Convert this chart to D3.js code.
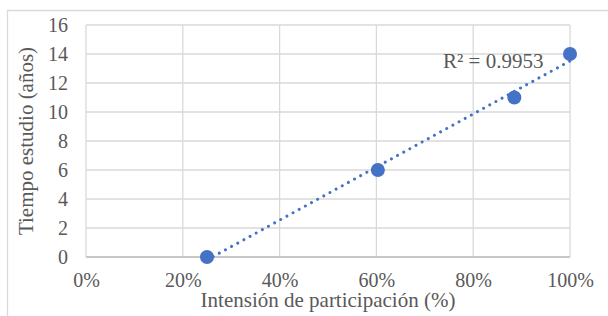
<!DOCTYPE html>
<html><head><meta charset="utf-8">
<script src="https://cdn.jsdelivr.net/npm/d3@7"></script>
<style>body{margin:0;background:#fff}svg{display:block}</style>
</head><body>
<script>
const xValues = [0.25, 0.603, 0.885, 1.0];
const yValues = [0, 6, 11, 14];
const xTicks = [0, 0.2, 0.4, 0.6, 0.8, 1.0];
const yTicks = [0, 2, 4, 6, 8, 10, 12, 14, 16];
const r2Label = "R² = 0.9953";
const xTitle = "Intensión de participación (%)";
const yTitle = "Tiempo estudio (años)";

const W = 608, H = 316;
const m = {left: 86, right: 38, top: 25, bottom: 59};
const svg = d3.select("body").append("svg").attr("width", W).attr("height", H);
const font = "'Liberation Serif','Times New Roman',serif";
const txt = "#595959";
const fs = 20, fsT = 21;

svg.append("path").attr("d", `M7.5,${H} V10.5 H${W}`).attr("fill","none").attr("stroke","#d9d9d9").attr("stroke-width",1.3);

const x = d3.scaleLinear().domain([0,1]).range([m.left, W - m.right]);
const y = d3.scaleLinear().domain([0,16]).range([H - m.bottom, m.top]);

const g = svg.append("g");
g.selectAll(".hg").data(yTicks).join("line")
  .attr("x1", x(0)).attr("x2", x(1)).attr("y1", d=>y(d)).attr("y2", d=>y(d))
  .attr("stroke","#d9d9d9").attr("stroke-width",1.3);
g.selectAll(".vg").data(xTicks).join("line")
  .attr("y1", y(0)).attr("y2", y(16)).attr("x1", d=>x(d)).attr("x2", d=>x(d))
  .attr("stroke","#d9d9d9").attr("stroke-width",1.3);
g.append("line").attr("x1", x(0)).attr("x2", x(1)).attr("y1", y(0)).attr("y2", y(0))
  .attr("stroke","#bfbfbf").attr("stroke-width",1.3);

const xa = svg.append("g").attr("transform", `translate(0,${y(0)})`)
  .call(d3.axisBottom(x).tickValues(xTicks).tickFormat(d3.format(".0%")).tickSize(0).tickPadding(16));
const ya = svg.append("g").attr("transform", `translate(${x(0)},0)`)
  .call(d3.axisLeft(y).tickValues(yTicks).tickSize(0).tickPadding(18));
[xa, ya].forEach(a => {
  a.attr("font-family", null).attr("font-size", null);
  a.select(".domain").remove();
  a.selectAll("text").style("font-family", font).style("font-size", fs+"px").attr("fill", txt);
});

const n = xValues.length;
const mx = d3.mean(xValues), my = d3.mean(yValues);
let sxy = 0, sxx = 0;
for (let i = 0; i < n; i++) { sxy += (xValues[i]-mx)*(yValues[i]-my); sxx += (xValues[i]-mx)**2; }
const slope = sxy/sxx, icpt = my - slope*mx;
const x0 = d3.min(xValues), x1 = d3.max(xValues);
svg.append("line")
  .attr("x1", x(x0)).attr("y1", y(slope*x0+icpt)).attr("x2", x(x1)).attr("y2", y(slope*x1+icpt))
  .attr("stroke","#4472C4").attr("stroke-width",3).attr("stroke-linecap","round")
  .attr("stroke-dasharray","0.01,7");

svg.selectAll(".pt").data(xValues.map((v,i)=>[v,yValues[i]])).join("circle")
  .attr("cx", d=>x(d[0])).attr("cy", d=>y(d[1])).attr("r", 7).attr("fill","#4472C4");

svg.append("text").attr("x", 443).attr("y", 68).text(r2Label)
  .style("font-family", font).style("font-size", fsT+"px").attr("fill", txt);

svg.append("text").attr("x", (x(0)+x(1))/2).attr("y", 307).attr("text-anchor","middle")
  .text(xTitle).style("font-family", font).style("font-size", fsT+"px").attr("fill", txt);
svg.append("text").attr("transform", `translate(33,${(y(0)+y(16))/2}) rotate(-90)`).attr("text-anchor","middle")
  .text(yTitle).style("font-family", font).style("font-size", fsT+"px").attr("fill", txt);
</script>
</body></html>
